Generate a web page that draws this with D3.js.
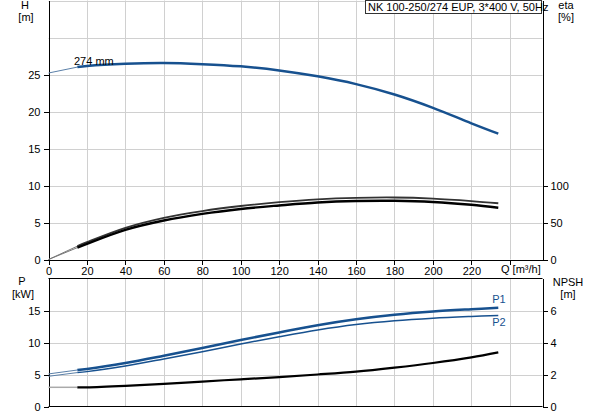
<!DOCTYPE html>
<head>
  <meta charset="utf-8">
  <script src="https://d3js.org/d3.v7.min.js"></script>
  <style>
    body { margin: 0; background: #fff; }
    svg { display: block; font-family: "Liberation Sans", Arial, sans-serif; font-size: 11px; }
    .grid line { stroke: #d0d0d0; stroke-width: 1; }
    .axis path, .axis line { stroke: #000; shape-rendering: crispEdges; }
    .axis text { fill: #000; font-size: 11px; font-family: "Liberation Sans", Arial, sans-serif; }
    .lbl { fill: #000; }
  </style>
</head>

<body>
  <script>
    var width = 593;
    var height = 415;

    // Q in m3/h
    var flow = [0, 15, 20, 40, 60, 80, 100, 120, 140, 160, 180, 200, 220, 234];
    var head = [25.2, 26.0, 26.15, 26.45, 26.55, 26.4, 26.1, 25.55, 24.75, 23.7, 22.3, 20.5, 18.4, 17.0];
    var etaPump = [0, 18, 23.4, 42.8, 56.3, 65.5, 72.3, 77.5, 81.3, 83.3, 83.8, 82.3, 79, 76];
    var etaTotal = [0, 16, 21.2, 40.1, 52.7, 61.7, 68.3, 73, 77, 79, 79.3, 77.8, 74, 70];
    var powerP1 = [5.09, 5.7, 5.87, 6.8, 7.94, 9.14, 10.39, 11.57, 12.7, 13.63, 14.33, 14.84, 15.2, 15.42];
    var powerP2 = [4.72, 5.3, 5.45, 6.34, 7.43, 8.57, 9.77, 10.9, 11.95, 12.8, 13.4, 13.8, 14.07, 14.22];
    var npsh = [1.2, 1.2, 1.2, 1.29, 1.41, 1.56, 1.7, 1.84, 2.0, 2.18, 2.43, 2.72, 3.07, 3.38];

    var qTicks = [0, 20, 40, 60, 80, 100, 120, 140, 160, 180, 200, 220, 240];
    var hTicks = [0, 5, 10, 15, 20, 25];
    var hGrid = [5, 10, 15, 20, 25, 30, 35];
    var etaTicks = [0, 50, 100];
    var pTicks = [0, 5, 10, 15];
    var npshTicks = [0, 2, 4, 6];
    var title = "NK 100-250/274 EUP, 3*400 V, 50Hz";
    var dutyStart = 15;

    var blue = "#17518f";

    var svg = d3.select("body").append("svg")
        .attr("width", width)
        .attr("height", height);

    var x = d3.scaleLinear().domain([0, 257]).range([48.5, 542.5]);
    var yH = d3.scaleLinear().domain([0, 35]).range([259.5, 0.5]);
    var yEta = d3.scaleLinear().domain([0, 350]).range([259.5, 0.5]);
    var yP = d3.scaleLinear().domain([0, 20]).range([406.5, 278.5]);
    var yN = d3.scaleLinear().domain([0, 8]).range([406.5, 278.5]);

    // grids
    var gTop = svg.append("g").attr("class", "grid");
    gTop.selectAll("line.v").data(qTicks.slice(1)).enter().append("line")
      .attr("x1", d => Math.round(x(d)) + 0.5).attr("x2", d => Math.round(x(d)) + 0.5)
      .attr("y1", yH(35)).attr("y2", yH(0));
    gTop.selectAll("line.h").data(hGrid).enter().append("line")
      .attr("x1", x(0)).attr("x2", x(257))
      .attr("y1", d => Math.round(yH(d)) + 0.5).attr("y2", d => Math.round(yH(d)) + 0.5);

    var gBot = svg.append("g").attr("class", "grid");
    gBot.selectAll("line.v").data(qTicks.slice(1)).enter().append("line")
      .attr("x1", d => Math.round(x(d)) + 0.5).attr("x2", d => Math.round(x(d)) + 0.5)
      .attr("y1", yP(20)).attr("y2", yP(0));
    gBot.selectAll("line.h").data([5, 10, 15]).enter().append("line")
      .attr("x1", x(0)).attr("x2", x(257))
      .attr("y1", d => Math.round(yP(d)) + 0.5).attr("y2", d => Math.round(yP(d)) + 0.5);

    // axes, top panel
    svg.append("g").attr("class", "axis")
      .attr("transform", "translate(0," + yH(0) + ")")
      .call(d3.axisBottom(x).tickValues(qTicks).tickSize(5).tickSizeOuter(0)
        .tickFormat(d => d === 240 ? "" : d));
    svg.append("g").attr("class", "axis")
      .attr("transform", "translate(" + x(0) + ",0)")
      .call(d3.axisLeft(yH).tickValues(hTicks).tickSize(5).tickSizeOuter(0).tickPadding(3));
    svg.append("g").attr("class", "axis")
      .attr("transform", "translate(" + x(257) + ",0)")
      .call(d3.axisRight(yEta).tickValues(etaTicks).tickSize(5).tickSizeOuter(0).tickPadding(3));

    // axes, bottom panel
    svg.append("line").attr("x1", x(0)).attr("x2", x(257))
      .attr("y1", yP(20)).attr("y2", yP(20)).attr("stroke", "#000");
    svg.append("line").attr("x1", x(0)).attr("x2", x(257))
      .attr("y1", yP(0)).attr("y2", yP(0)).attr("stroke", "#000");
    svg.append("g").attr("class", "axis")
      .attr("transform", "translate(" + x(0) + ",0)")
      .call(d3.axisLeft(yP).tickValues(pTicks).tickSize(5).tickSizeOuter(0).tickPadding(3));
    svg.append("g").attr("class", "axis")
      .attr("transform", "translate(" + x(257) + ",0)")
      .call(d3.axisRight(yN).tickValues(npshTicks).tickSize(5).tickSizeOuter(0).tickPadding(3));

    // curves: thin part before duty start, thick after
    function drawCurve(values, yScale, colThin, colThick, wThin, wThick) {
      var pts = flow.map((q, i) => [q, values[i]]);
      var line = d3.line().curve(d3.curveCatmullRom.alpha(0.5))
        .x(d => x(d[0])).y(d => yScale(d[1]));
      svg.append("path").attr("d", line(pts.filter(d => d[0] <= dutyStart)))
        .attr("fill", "none").attr("stroke", colThin).attr("stroke-width", wThin);
      svg.append("path").attr("d", line(pts.filter(d => d[0] >= dutyStart)))
        .attr("fill", "none").attr("stroke", colThick).attr("stroke-width", wThick);
    }

    drawCurve(head, yH, "#5a7fa8", blue, 1, 2.5);
    drawCurve(etaPump, yEta, "#777", "#333", 1, 1.8);
    drawCurve(etaTotal, yEta, "#777", "#000", 1, 2.4);
    drawCurve(powerP1, yP, "#5a7fa8", blue, 1, 2.5);
    drawCurve(powerP2, yP, "#5a7fa8", blue, 1, 1.5);
    drawCurve(npsh, yN, "#aaa", "#000", 1.5, 2.2);

    // texts
    svg.append("text").attr("class", "lbl").attr("x", 74).attr("y", 65).text("274 mm");
    svg.append("text").attr("x", x(234) - 6).attr("y", 303).attr("fill", blue).text("P1");
    svg.append("text").attr("x", x(234) - 6).attr("y", 326).attr("fill", blue).text("P2");

    svg.append("text").attr("class", "lbl").attr("x", 501).attr("y", 273).text("Q [m\u00b3/h]");

    svg.append("text").attr("class", "lbl").attr("x", 25).attr("y", 9).attr("text-anchor", "middle").text("H");
    svg.append("text").attr("class", "lbl").attr("x", 26).attr("y", 21).attr("text-anchor", "middle").text("[m]");
    svg.append("text").attr("class", "lbl").attr("x", 566).attr("y", 9).attr("text-anchor", "middle").text("eta");
    svg.append("text").attr("class", "lbl").attr("x", 566).attr("y", 21).attr("text-anchor", "middle").text("[%]");
    svg.append("text").attr("class", "lbl").attr("x", 22).attr("y", 285).attr("text-anchor", "middle").text("P");
    svg.append("text").attr("class", "lbl").attr("x", 23).attr("y", 298).attr("text-anchor", "middle").text("[kW]");
    svg.append("text").attr("class", "lbl").attr("x", 568).attr("y", 286).attr("text-anchor", "middle").text("NPSH");
    svg.append("text").attr("class", "lbl").attr("x", 568).attr("y", 298).attr("text-anchor", "middle").text("[m]");

    // title box
    var tb = svg.append("g");
    tb.append("rect").attr("x", 365.5).attr("y", 0.5).attr("width", 176).attr("height", 13)
      .attr("fill", "#fff").attr("stroke", "#333");
    tb.append("text").attr("class", "lbl").attr("x", 368).attr("y", 10.5).text(title);
  </script>
</body>
